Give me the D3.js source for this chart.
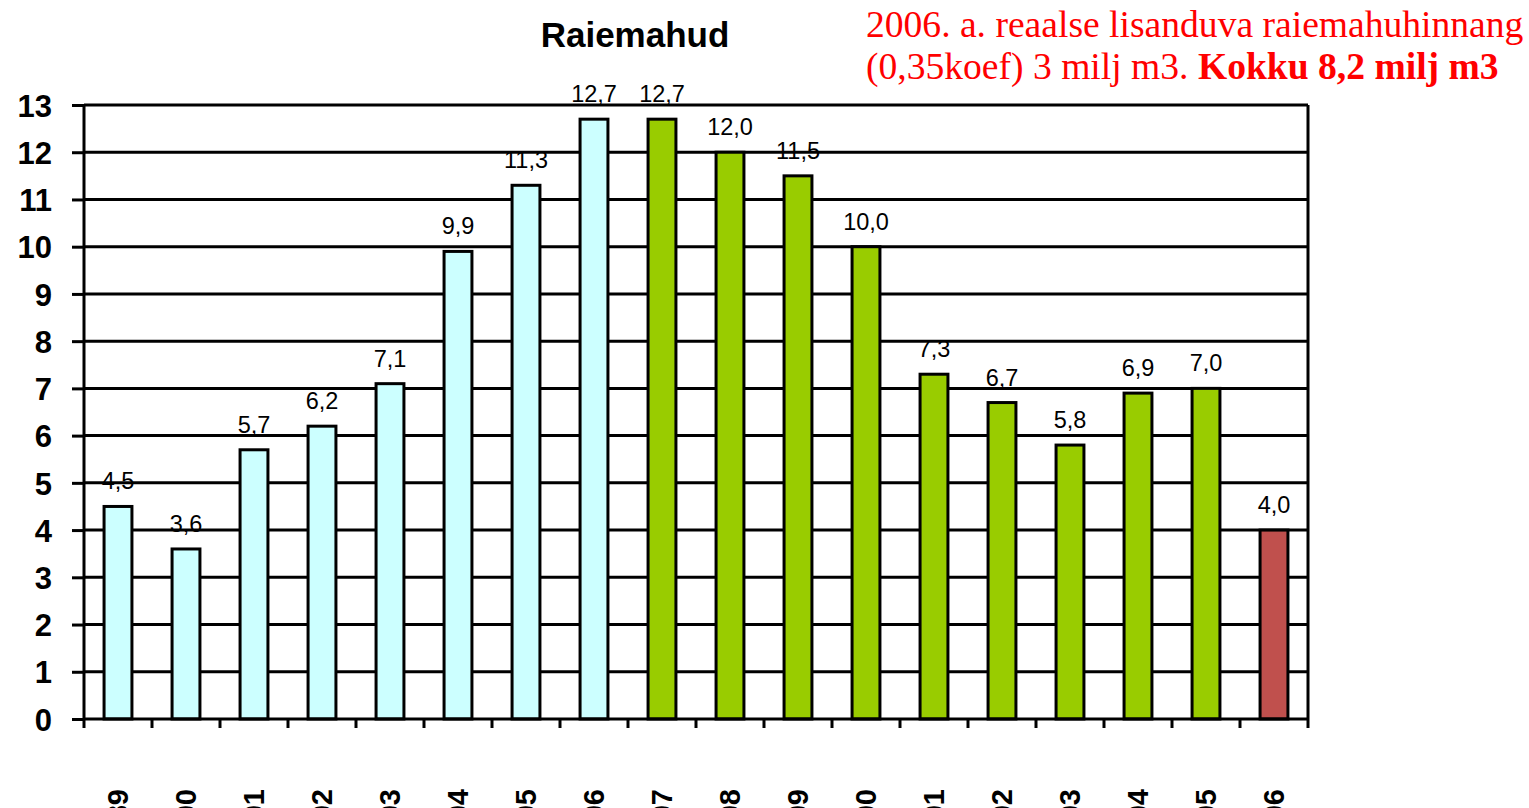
<!DOCTYPE html>
<html><head><meta charset="utf-8">
<script src="https://cdn.jsdelivr.net/npm/d3@7"></script>
<style>html,body{margin:0;padding:0;background:#fff;overflow:hidden}</style>
</head><body>
<svg id="c" width="1529" height="808"></svg>
<script>
const years = ["1989","1990","1991","1992","1993","1994","1995","1996","1997","1998","1999","2000","2001","2002","2003","2004","2005","2006"];
const values = [4.5,3.6,5.7,6.2,7.1,9.9,11.3,12.7,12.7,12.0,11.5,10.0,7.3,6.7,5.8,6.9,7.0,4.0];
const groups = ["a","a","a","a","a","a","a","a","b","b","b","b","b","b","b","b","b","c"];
const yTicks = [0,1,2,3,4,5,6,7,8,9,10,11,12,13];
const colors = {a:"#CCFFFF", b:"#99CC00", c:"#C0504D"};

const svg = d3.select("#c");
const pL = 84, pR = 1308, pT = 105, pB = 719;
const x = d3.scaleBand().domain(years).range([pL, pR]).paddingInner(0.59).paddingOuter(0.295);
const xb = d3.scaleBand().domain(years).range([pL, pR]);
const y = d3.scaleLinear().domain([0, 13]).range([pB, pT]);
const fmt = v => v.toFixed(1).replace(".", ",");

// value labels (under grid)
svg.append("g").selectAll("text").data(values).join("text")
  .attr("x", (d,i) => x(years[i]) + x.bandwidth()/2)
  .attr("y", d => y(d) - 17)
  .attr("text-anchor", "middle")
  .attr("font-family", "Liberation Sans, Arial, sans-serif")
  .attr("font-size", 23.5)
  .attr("fill", "#000")
  .text(fmt);

// grid lines
svg.append("g").selectAll("line").data(yTicks.filter(t => t > 0)).join("line")
  .attr("x1", pL).attr("x2", pR)
  .attr("y1", d => y(d)).attr("y2", d => y(d))
  .attr("stroke", "#000").attr("stroke-width", 3);
svg.append("line").attr("x1", pR).attr("x2", pR).attr("y1", pT).attr("y2", pB)
  .attr("stroke", "#000").attr("stroke-width", 3);

// bars
svg.append("g").selectAll("rect").data(values).join("rect")
  .attr("x", (d,i) => x(years[i]))
  .attr("y", d => y(d))
  .attr("width", x.bandwidth())
  .attr("height", d => y(0) - y(d))
  .attr("fill", (d,i) => colors[groups[i]])
  .attr("stroke", "#000").attr("stroke-width", 3);

// y axis
const ya = svg.append("g").attr("transform", `translate(${pL},0)`)
  .call(d3.axisLeft(y).tickValues(yTicks).tickSize(12).tickPadding(20).tickFormat(d3.format("d")));
ya.select(".domain").attr("stroke-width", 3).attr("d", `M0,${pT}V${pB}`);
ya.selectAll(".tick line").attr("stroke-width", 3);
ya.selectAll(".tick text").attr("font-family", "Liberation Sans, Arial, sans-serif")
  .attr("font-size", 31).attr("font-weight", "bold").attr("fill", "#000").attr("dy", "0.36em");

// x axis
const xa = svg.append("g").attr("transform", `translate(0,${pB})`)
  .call(d3.axisBottom(xb).tickSize(0).tickFormat(""));
xa.select(".domain").attr("stroke-width", 3).attr("d", `M${pL},0H${pR}`);
svg.append("g").selectAll("line").data(years.concat(["end"])).join("line")
  .attr("x1", (d,i) => pL + i*xb.step()).attr("x2", (d,i) => pL + i*xb.step())
  .attr("y1", pB).attr("y2", pB + 9)
  .attr("stroke", "#000").attr("stroke-width", 3);

// clipped rotated year labels (cut off by the bottom edge, as in the reference)
svg.append("g").selectAll("text").data(years).join("text")
  .attr("transform", d => `translate(${xb(d) + xb.bandwidth()/2 + 10},789) rotate(-90)`)
  .attr("text-anchor", "end")
  .attr("font-family", "Liberation Sans, Arial, sans-serif")
  .attr("font-size", 29).attr("font-weight", "bold").attr("fill", "#000")
  .text(d => d);

// title
svg.append("text").attr("x", 635).attr("y", 47).attr("text-anchor", "middle")
  .attr("font-family", "Liberation Sans, Arial, sans-serif")
  .attr("font-size", 35).attr("font-weight", "bold").attr("fill", "#000")
  .text("Raiemahud");

// annotation
const ann = svg.append("g").attr("font-family", "Liberation Serif, Times New Roman, serif")
  .attr("font-size", 37.6).attr("fill", "#FF0000");
ann.append("text").attr("x", 866).attr("y", 37).text("2006. a. reaalse lisanduva raiemahuhinnang");
const t2 = ann.append("text").attr("x", 866).attr("y", 79);
t2.append("tspan").text("(0,35koef) 3 milj m3. ");
t2.append("tspan").attr("font-weight", "bold").text("Kokku 8,2 milj m3");
</script>
</body></html>
